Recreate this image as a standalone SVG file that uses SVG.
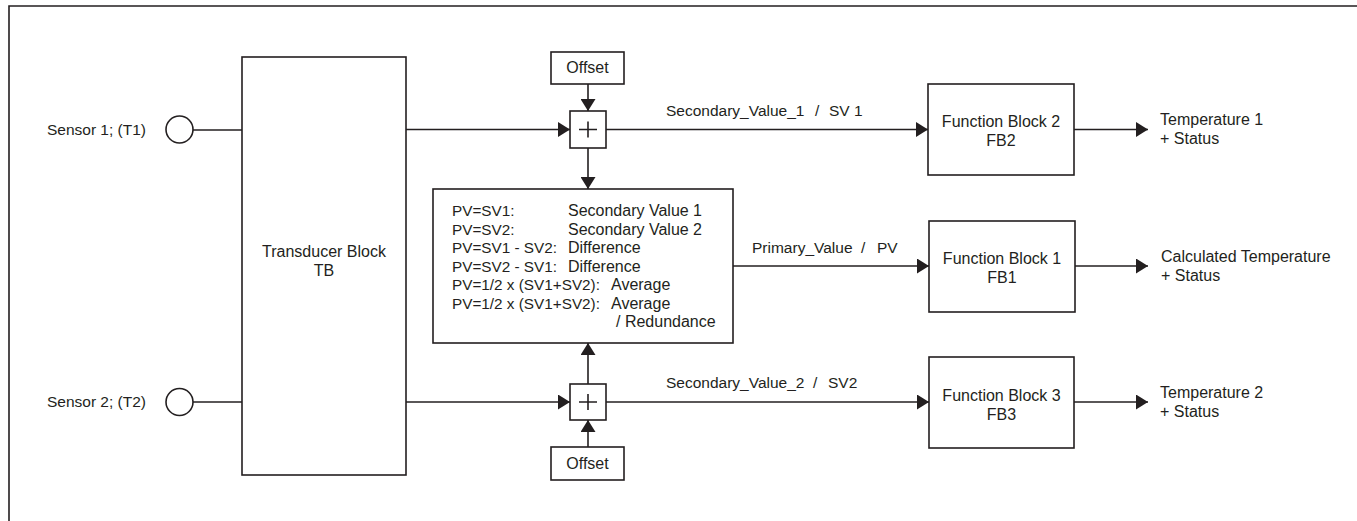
<svg xmlns="http://www.w3.org/2000/svg" width="1357" height="521" viewBox="0 0 1357 521">
<style>
.box{fill:#fff;stroke:#231f20;stroke-width:1.6}
.ln{fill:none;stroke:#231f20;stroke-width:1.6}
.ar{marker-end:url(#ah)}
text{font-family:"Liberation Sans",Arial,sans-serif;font-size:16px;fill:#231f20}
.s{font-size:15.5px}
.k{font-size:15.3px}
.c{text-anchor:middle}
.r{text-anchor:end}
</style>
<defs>
<marker id="ah" viewBox="0 0 12 15" refX="12" refY="7.5" markerWidth="12" markerHeight="15" markerUnits="userSpaceOnUse" orient="auto">
<path d="M0,0 L12,7.5 L0,15 z" fill="#231f20"/>
</marker>
</defs>
<rect width="1357" height="521" fill="#fff"/>
<path class="ln" d="M9,521 V6 H1357"/>

<g id="connectors">
<line class="ln" x1="193" y1="130" x2="242" y2="130"/>
<line class="ln" x1="193" y1="402" x2="242" y2="402"/>
<line class="ln ar" x1="406" y1="129.5" x2="570" y2="129.5"/>
<line class="ln ar" x1="406" y1="402" x2="570" y2="402"/>
<line class="ln ar" x1="588" y1="84" x2="588" y2="111"/>
<line class="ln ar" x1="588" y1="148" x2="588" y2="189"/>
<line class="ln ar" x1="588" y1="384" x2="588" y2="343"/>
<line class="ln ar" x1="588" y1="447" x2="588" y2="420"/>
<line class="ln ar" x1="606" y1="129.5" x2="928" y2="129.5"/>
<line class="ln ar" x1="733" y1="266" x2="929" y2="266"/>
<line class="ln ar" x1="606" y1="402" x2="929" y2="402"/>
<line class="ln ar" x1="1074" y1="129.5" x2="1148" y2="129.5"/>
<line class="ln ar" x1="1075" y1="266" x2="1148" y2="266"/>
<line class="ln ar" x1="1074" y1="402" x2="1148" y2="402"/>
<text class="s" x="666" y="116">Secondary_Value_1<tspan x="815">/</tspan><tspan x="829">SV 1</tspan></text>
<text class="s" x="752" y="253">Primary_Value<tspan x="861">/</tspan><tspan x="877">PV</tspan></text>
<text class="s" x="666" y="388">Secondary_Value_2<tspan x="813">/</tspan><tspan x="828">SV2</tspan></text>
</g>

<g id="sensor1">
<circle class="box" cx="179.5" cy="129.5" r="13.5"/>
<text class="r s" x="146" y="135">Sensor 1; (T1)</text>
</g>
<g id="sensor2">
<circle class="box" cx="179.5" cy="402" r="13.5"/>
<text class="r s" x="146" y="407">Sensor 2; (T2)</text>
</g>

<g id="tb">
<rect class="box" x="242" y="57" width="164" height="418"/>
<text class="c" x="324" y="257">Transducer Block</text>
<text class="c" x="324" y="276">TB</text>
</g>

<g id="offset1">
<rect class="box" x="551" y="52" width="73" height="32"/>
<text class="c" x="587.5" y="73">Offset</text>
</g>
<g id="adder1">
<rect class="box" x="570" y="111" width="36" height="37"/>
<path class="ln" d="M579,129.5 H597 M588,121.5 V137.5"/>
</g>

<g id="offset2">
<rect class="box" x="551" y="447" width="73" height="33"/>
<text class="c" x="587.5" y="469">Offset</text>
</g>
<g id="adder2">
<rect class="box" x="570" y="384" width="36" height="36"/>
<path class="ln" d="M579,402 H597 M588,394 V410"/>
</g>

<g id="pvbox">
<rect class="box" x="433" y="189" width="300" height="154"/>
<text class="k" x="452" y="216">PV=SV1:</text><text x="568" y="216">Secondary Value 1</text>
<text class="k" x="452" y="234.5">PV=SV2:</text><text x="568" y="234.5">Secondary Value 2</text>
<text class="k" x="452" y="253">PV=SV1 - SV2:</text><text x="568" y="253">Difference</text>
<text class="k" x="452" y="271.5">PV=SV2 - SV1:</text><text x="568" y="271.5">Difference</text>
<text class="k" x="452" y="290">PV=1/2 x (SV1+SV2):</text><text x="611" y="290">Average</text>
<text class="k" x="452" y="308.5">PV=1/2 x (SV1+SV2):</text><text x="611" y="308.5">Average</text>
<text x="616" y="327">/ Redundance</text>
</g>

<g id="fb2">
<rect class="box" x="928" y="84" width="146" height="91"/>
<text class="c" x="1001" y="127">Function Block 2</text>
<text class="c" x="1001" y="146">FB2</text>
</g>
<g id="fb1">
<rect class="box" x="929" y="221" width="146" height="91"/>
<text class="c" x="1002" y="264">Function Block 1</text>
<text class="c" x="1002" y="283">FB1</text>
</g>
<g id="fb3">
<rect class="box" x="929" y="357" width="145" height="91"/>
<text class="c" x="1001.5" y="401">Function Block 3</text>
<text class="c" x="1001.5" y="420">FB3</text>
</g>

<g id="out1">
<text x="1160" y="125">Temperature 1</text>
<text x="1160" y="144">+ Status</text>
</g>
<g id="out0">
<text x="1161" y="262">Calculated Temperature</text>
<text x="1161" y="281">+ Status</text>
</g>
<g id="out2">
<text x="1160" y="398">Temperature 2</text>
<text x="1160" y="417">+ Status</text>
</g>
</svg>
